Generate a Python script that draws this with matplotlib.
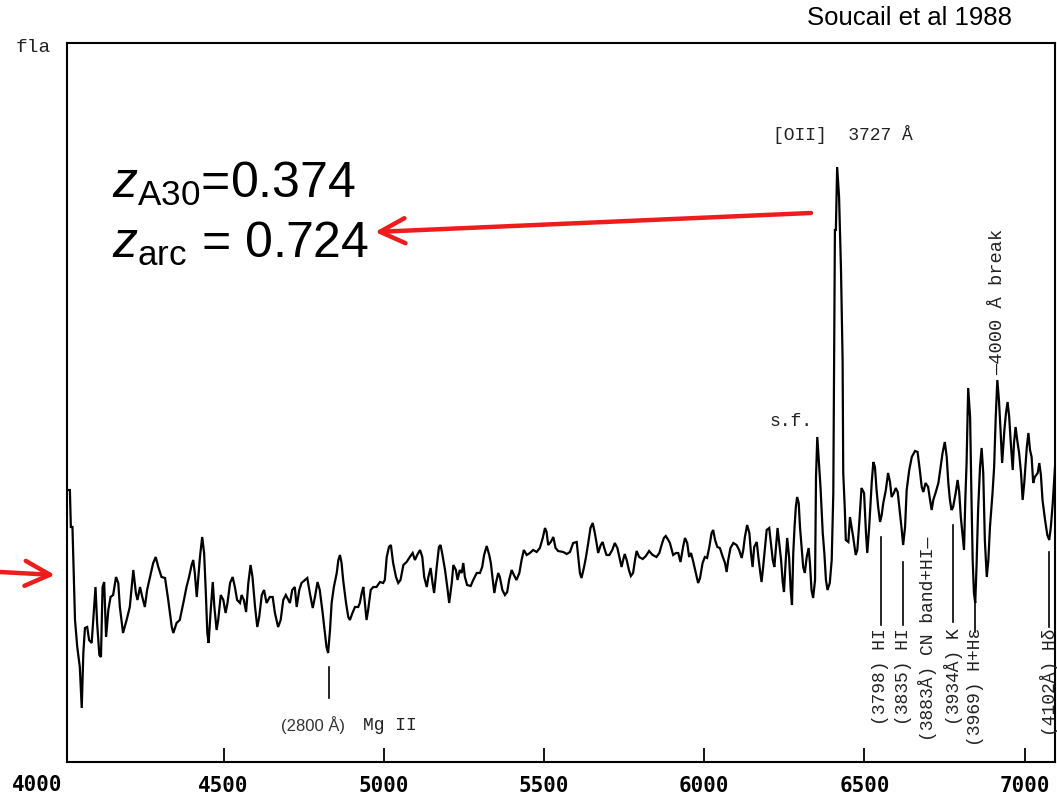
import matplotlib
matplotlib.use("Agg")
import matplotlib.pyplot as plt

plt.rcParams["mathtext.fontset"] = "custom"
plt.rcParams["mathtext.rm"] = "Liberation Sans"
plt.rcParams["mathtext.it"] = "Liberation Sans:italic"

# Observed wavelength (Angstrom) and relative flux of the arc spectrum
wavelength = [
    4014, 4020, 4023, 4028, 4033, 4036, 4043, 4051, 4057, 4062, 4067, 4074, 4080, 4088,
    4093, 4100, 4105, 4112, 4117, 4122, 4127, 4133, 4140, 4147, 4155, 4164, 4171, 4176,
    4186, 4197, 4207, 4213, 4218, 4226, 4231, 4239, 4246, 4254, 4261, 4270, 4280, 4288,
    4296, 4306, 4317, 4327, 4338, 4343, 4353, 4363, 4376, 4384, 4392, 4400, 4405, 4410,
    4416, 4421, 4426, 4433, 4439, 4444, 4449, 4453, 4459, 4466, 4471, 4478, 4483, 4491,
    4499, 4506, 4512, 4520, 4528, 4535, 4542, 4551, 4556, 4563, 4570, 4577, 4584, 4590,
    4598, 4605, 4611, 4619, 4626, 4634, 4644,
    4653, 4660, 4670, 4678, 4686, 4694, 4702, 4707, 4714, 4722, 4728, 4736, 4743, 4754,
    4761, 4769, 4778, 4785, 4793, 4800, 4809, 4816, 4821, 4826, 4832, 4837, 4844, 4853,
    4858, 4863, 4868, 4873, 4882, 4889, 4894, 4902, 4910, 4920, 4925, 4931, 4936, 4941,
    4946, 4951, 4959, 4967, 4977, 4988, 4998, 5003, 5009, 5016, 5022, 5029, 5038, 5045,
    5052, 5061, 5071, 5081, 5090, 5097, 5104, 5113, 5120, 5126, 5134, 5139, 5146, 5152,
    5157, 5165, 5172, 5177, 5183, 5191, 5198, 5204, 5212, 5217, 5225, 5230, 5237,
    5243, 5248, 5253, 5260, 5271, 5279, 5290, 5300, 5307, 5313, 5321, 5329, 5334, 5340,
    5345, 5350, 5357, 5362, 5370, 5378, 5385, 5391, 5399, 5406, 5414, 5423, 5430, 5437,
    5446, 5456, 5466, 5477, 5487, 5496, 5503, 5508, 5513, 5521, 5529, 5536, 5544, 5560,
    5571, 5581, 5591, 5602, 5607, 5612, 5617, 5625, 5631, 5638, 5645, 5652, 5658, 5664,
    5669, 5677, 5683, 5688, 5695, 5704, 5713, 5721, 5729, 5735, 5742, 5747, 5752, 5758,
    5765, 5771, 5778, 5784, 5789, 5797, 5808, 5818, 5828, 5839, 5851, 5860, 5867, 5874,
    5880, 5888, 5893,
    5903, 5912, 5919, 5926, 5934, 5940, 5947, 5953, 5959, 5966, 5974, 5981, 5987, 5995,
    6002, 6009, 6016, 6023, 6028, 6034, 6041, 6049, 6058, 6065, 6070, 6075, 6082, 6091,
    6101, 6109, 6117, 6122, 6127, 6134, 6141, 6146, 6151, 6156, 6164, 6169, 6174, 6179,
    6184, 6190, 6195, 6203, 6208, 6214, 6219, 6224, 6229, 6234, 6240, 6245, 6249, 6254,
    6259, 6265, 6270, 6274, 6278, 6282, 6286, 6290, 6295, 6299, 6304, 6309, 6314, 6320,
    6326, 6330, 6335, 6340, 6346, 6349, 6353, 6357, 6363, 6370, 6375, 6380, 6385, 6392,
    6398, 6403, 6405, 6408, 6411, 6415, 6421, 6427, 6432, 6434, 6439, 6442, 6450,
    6455, 6460, 6465, 6473, 6478, 6484, 6491, 6499, 6505, 6509, 6515, 6523, 6528, 6533,
    6538, 6543, 6549, 6554, 6559, 6567, 6574, 6580, 6585, 6592, 6598, 6604, 6609, 6616,
    6621, 6627, 6632, 6640, 6648, 6658, 6666, 6673, 6679, 6684, 6691, 6699, 6705, 6710,
    6715, 6722, 6731, 6738, 6744, 6751, 6757, 6762, 6767, 6772, 6777, 6785, 6791, 6796,
    6801, 6807, 6811, 6815, 6819, 6824, 6830, 6834, 6838, 6842, 6846, 6850, 6855, 6861,
    6866, 6871, 6876, 6882, 6887, 6892, 6900, 6905, 6910, 6915, 6920, 6925, 6930, 6937,
    6942, 6947, 6952, 6957, 6963, 6967, 6972, 6977, 6983, 6989, 6994, 6999, 7007, 7012,
    7017, 7022, 7027, 7032, 7041, 7046, 7051, 7056, 7064, 7071, 7077, 7082, 7088, 7092,
    7095,
]
flux = [
    27.2, 27.2, 23.5, 23.5, 17.5, 14.2, 11.5, 9.5, 5.4, 10.9, 13.4, 13.5, 12.2, 11.9,
    14.2, 17.5, 13.9, 10.7, 10.5, 17.5, 18.0, 12.5, 15.2, 16.5, 16.7, 18.5, 17.9, 15.5,
    12.9, 14.2, 15.5, 17.5, 19.2, 16.9, 16.2, 17.5, 16.5, 15.5, 17.2, 18.5, 19.9, 20.5,
    19.5, 18.5, 18.4, 16.2, 13.5, 12.9, 13.9, 14.2, 16.2, 17.5, 18.5, 19.7, 20.2, 18.9,
    16.5, 18.5, 20.5, 22.5, 20.9, 17.2, 12.9, 11.9, 14.9, 18.0, 15.5, 13.2, 14.2, 16.7,
    16.2, 14.9, 15.9, 17.9, 18.5, 17.5, 16.2, 15.9, 16.7, 16.2, 15.0, 17.9, 19.7, 18.5,
    15.5, 13.5, 14.5, 16.7, 17.2, 15.9, 16.5,
    16.5, 14.9, 13.5, 14.2, 16.2, 16.7, 16.2, 15.9, 17.2, 17.5, 15.5, 17.2, 17.9, 18.2,
    18.4, 16.9, 15.4, 16.5, 18.0, 17.2, 14.9, 12.9, 11.5, 10.9, 13.2, 15.9, 17.5, 18.9,
    20.2, 20.7, 19.9, 18.2, 15.9, 14.5, 14.2, 14.9, 15.5, 15.5, 15.9, 16.9, 17.5, 15.9,
    14.2, 15.2, 17.2, 17.5, 17.5, 18.0, 17.9, 18.2, 20.5, 21.5, 21.7, 19.9, 18.5, 17.9,
    18.2, 19.7, 20.0, 20.5, 20.9, 20.2, 20.7, 21.2, 20.5, 18.5, 17.5, 18.5, 19.4, 17.9,
    16.9, 19.5, 21.5, 21.7, 20.7, 19.2, 17.5, 15.9, 17.9, 19.7, 19.2, 18.2, 19.2,
    18.9, 19.9, 18.5, 17.7, 17.6, 18.2, 18.9, 18.9, 19.5, 20.7, 21.6, 20.7, 19.9, 18.2,
    16.9, 17.9, 18.9, 18.5, 17.2, 16.7, 17.0, 18.2, 19.2, 18.7, 18.2, 18.9, 20.2, 21.2,
    20.7, 20.9, 21.2, 21.0, 21.4, 22.4, 23.4, 23.0, 21.7, 22.0, 22.5, 21.4, 21.1, 21.0,
    20.8, 21.0, 21.9, 22.0, 20.5, 18.9, 18.4, 19.5, 20.5, 21.9, 23.4, 23.9, 23.0, 21.9,
    20.9, 21.7, 22.0, 21.4, 20.7, 20.7, 21.2, 21.9, 21.4, 20.5, 19.5, 20.2, 20.8, 20.2,
    19.2, 18.6, 18.9, 20.2, 21.1, 20.5, 20.3, 20.6, 21.1, 20.7, 20.5, 20.9, 21.7, 22.4,
    22.6, 22.2, 21.9,
    20.7, 20.9, 20.9, 20.0, 21.5, 22.4, 21.9, 20.5, 20.9, 20.0, 18.9, 17.9, 18.4, 19.9,
    20.5, 20.4, 21.5, 22.9, 23.2, 22.2, 21.5, 21.4, 20.5, 19.9, 19.0, 20.2, 21.4, 21.9,
    21.7, 21.2, 20.4, 21.2, 22.5, 23.7, 22.9, 20.9, 19.5, 21.5, 22.0, 20.5, 19.2, 18.0,
    19.5, 21.5, 23.2, 23.4, 21.9, 20.2, 19.5, 21.5, 23.4, 21.9, 20.2, 18.0, 17.0, 19.9,
    22.4, 20.5, 17.2, 15.7, 20.9, 23.5, 25.5, 26.5, 25.9, 23.5, 21.5, 19.5, 18.9, 20.5,
    21.4, 19.9, 17.2, 16.4, 18.2, 28.5, 32.5, 30.5, 27.5, 22.9, 20.9, 18.2, 17.2, 17.9,
    20.2, 26.9, 38.0, 53.2, 53.2, 59.5, 56.5, 49.2, 40.2, 28.9, 25.2, 22.2, 22.0,
    24.5, 23.5, 22.5, 20.7, 21.2, 23.9, 27.4, 26.9, 22.9, 20.9, 23.5, 28.0, 30.0, 29.5,
    27.2, 25.5, 24.0, 24.7, 25.9, 27.2, 28.9, 28.0, 26.5, 26.9, 27.4, 27.0, 25.5, 23.4,
    21.7, 23.5, 27.2, 29.2, 30.5, 31.1, 31.0, 29.2, 27.5, 27.0, 27.9, 27.5, 26.2, 25.2,
    26.2, 26.9, 27.9, 29.5, 30.9, 32.0, 30.5, 27.9, 26.2, 25.2, 25.5, 26.9, 28.2, 27.0,
    24.5, 22.5, 21.2, 26.2, 29.9, 37.4, 34.5, 26.9, 20.2, 16.9, 15.9, 19.5, 25.2, 29.5,
    31.4, 28.9, 22.2, 18.5, 20.2, 23.5, 26.9, 29.5, 34.5, 38.2, 36.2, 33.2, 29.9, 33.2,
    34.9, 36.0, 34.5, 31.9, 29.2, 31.9, 33.5, 32.2, 30.9, 28.9, 26.2, 27.9, 31.5, 32.9,
    31.2, 30.5, 27.9, 28.5, 28.9, 29.9, 28.7, 26.2, 24.2, 22.7, 22.2, 23.5, 25.9, 27.9,
    29.5,
]

tick_values = [4500, 5000, 5500, 6000, 6500, 7000]
tick_labels = ["4500", "5000", "5500", "6000", "6500", "7000"]

# Identified features: (wavelength, top of marker, bottom of marker, label)
line_ids = [
    (6551, 22.5, 13.7, "(3798) HI"),
    (6621, 20.0, 13.7, "(3835) HI"),
    (6777, 23.7, 14.0, "(3934\u00c5) K"),
    (6846, 16.2, 13.0, "(3969) H+H\u03b5"),
    (7077, 21.0, 13.5, "(4102\u00c5) H\u03b4"),
]

W, H = 1057, 795
fig = plt.figure(figsize=(W / 100, H / 100), dpi=100)
ax = fig.add_axes([67 / W, 33 / H, (1055 - 67) / W, (762 - 43) / H])

ax.plot(wavelength, flux, color="black", lw=1.6, solid_joinstyle="miter")
ax.set_xlim(4011, 7095)
ax.set_ylim(0, 71.9)

for sp in ax.spines.values():
    sp.set_linewidth(1.5)
ax.set_yticks([])
ax.set_xticks(tick_values)
ax.set_xticklabels(tick_labels)
ax.tick_params(axis="x", direction="in", length=10, width=1.3, pad=10,
               labelsize=15)
for lab in ax.get_xticklabels():
    lab.set_family("DejaVu Sans Mono")
    lab.set_weight("bold")
fig.text(37 / W, 1 - 785 / H, "4000", ha="center", va="center",
         family="DejaVu Sans Mono", weight="bold", fontsize=15)

mono = dict(family="Liberation Mono", color="#222222")

# Absorption line markers and labels
for lam, top, bot, text in line_ids:
    ax.plot([lam, lam], [bot, top], color="black", lw=1.2)
    ax.text(lam, 13.4, text, rotation=90, ha="center", va="top", fontsize=13, **mono)
ax.text(6696, 22.5, "(3883\u00c5) CN band+HI\u2014", rotation=90, ha="center",
        va="top", fontsize=13, **mono)

# Mg II
ax.plot([4829, 4829], [6.4, 9.5], color="black", lw=1.2)
ax.text(4880, 3.7, "(2800 \u00c5)", ha="right", va="center", fontsize=12,
        family="Liberation Sans", color="#333333")
ax.text(4935, 3.7, "Mg II", ha="left", va="center", fontsize=13, **mono)

# Emission / break labels
ax.text(6214, 62.7, "[OII]  3727 \u00c5", ha="left", va="center", fontsize=13, **mono)
ax.text(6205, 34.0, "s.f.", ha="left", va="center", fontsize=13, **mono)
ax.text(6917, 38.7, "\u20144000 \u00c5 break", rotation=90, ha="center",
        va="bottom", fontsize=13.5, **mono)

fig.text(16 / W, 1 - 47 / H, "fla", ha="left", va="center", fontsize=14, **mono)
fig.text(1012 / W, 1 - 18 / H, "Soucail et al 1988", ha="right", va="center",
         fontsize=18.5, family="Liberation Sans")

# Redshift annotations
fig.text(112 / W, 1 - 198 / H, r"$\mathit{z}_{\mathrm{A30}}$=0.374", ha="left",
         va="baseline", fontsize=36, family="Liberation Sans")
fig.text(112 / W, 1 - 258 / H, r"$\mathit{z}_{\mathrm{arc}}$ = 0.724", ha="left",
         va="baseline", fontsize=36, family="Liberation Sans")

red = "#ee1c1c"
arrow = dict(arrowstyle="->,head_length=0.9,head_width=0.45", color=red, lw=3.2,
             shrinkA=0, shrinkB=0, mutation_scale=20)
ax.annotate("", xy=(375 / W, 1 - 232 / H), xytext=(811 / W, 1 - 213 / H),
            xycoords="figure fraction", textcoords="figure fraction",
            arrowprops=arrow, annotation_clip=False)
ax.annotate("", xy=(55 / W, 1 - 575 / H), xytext=(0, 1 - 572 / H),
            xycoords="figure fraction", textcoords="figure fraction",
            arrowprops=arrow, annotation_clip=False)

fig.savefig("out.png", dpi=100, facecolor="white")
